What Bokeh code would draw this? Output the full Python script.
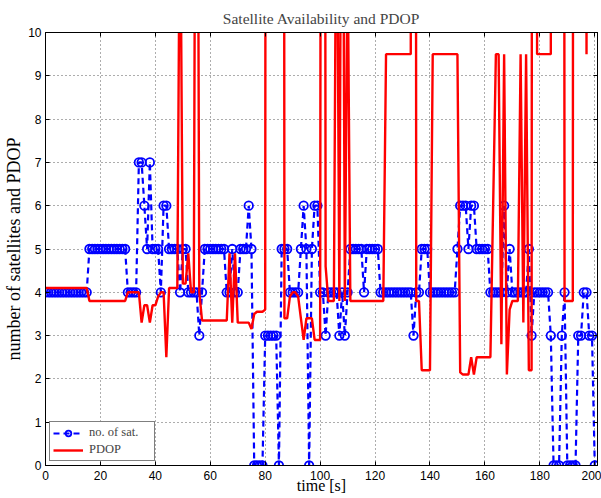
from bokeh.plotting import figure
from bokeh.models import (Range1d, FixedTicker, LinearAxis, Legend, LegendItem,
                          CustomLabelingPolicy)
from bokeh.embed import file_html
from bokeh.resources import INLINE

# time axis [s]
time_s = list(range(201))

# number of satellites
num_sat = [
    4, 4, 4, 4, 4, 4, 4, 4, 4, 4, 4, 4, 4, 4, 4, 4,
    5, 5, 5, 5, 5, 5, 5, 5, 5, 5, 5, 5, 5, 5,
    4, 4, 4, 4,
    7, 7, 6, 5, 7, 5, 5, 5, 4, 6, 6, 5, 5, 5, 5, 4,
    5, 5, 4, 4, 4, 4, 3, 4,
    5, 5, 5, 5, 5, 5, 5, 5,
    4, 4, 5, 4, 4, 5, 5, 5, 6, 5,
    0, 0, 0, 0, 3, 3, 3, 3, 3, 0,
    5, 5, 5, 4, 4, 4, 4, 5, 6, 5,
    0, 5, 6, 6, 4, 4, 3,
    4, 4, 4, 4, 3, 4, 3, 4,
    5, 5, 5, 5, 5, 4, 5, 5, 5, 5, 5,
    4, 4, 4, 4, 4, 4, 4, 4, 4, 4, 4, 4,
    3, 4, 4, 5, 5, 5, 4,
    4, 4, 4, 4, 4, 4, 4, 4, 4,
    5, 6, 6, 6, 5, 6, 6, 5, 5, 5, 5, 5,
    4, 4, 4, 4, 4,
    6, 4, 5, 4, 4, 4, 4, 4, 4,
    5, 3, 4, 4, 4, 4, 4, 4, 3,
    0, 0, 0, 3, 4, 0, 0, 0, 0, 3, 3, 4, 4, 3, 3, 0,
]

# PDOP (values far above 10 leave the plotted range)
pdop = [
    4.1, 4.1, 4.1, 4.1, 4.1, 4.1, 4.1, 4.1, 4.1, 4.1, 4.1, 4.1, 4.1, 4.1, 4.1, 4.1,
    3.8, 3.8, 3.8, 3.8, 3.8, 3.8, 3.8, 3.8, 3.8, 3.8, 3.8, 3.8, 3.8, 3.8,
    4.0, 4.0, 4.0, 4.0, 4.0,
    3.3, 3.7, 3.7, 3.3, 3.7, 3.7, 3.9, 4.0, 4.0, 2.5, 4.1, 4.1, 4.1, 4.1,
    14, 4.2, 4.2, 4.9, 4.0, 4.0, 24, 4.0,
    3.35, 3.35, 3.35, 3.35, 3.35, 3.35, 3.35, 3.35, 3.35, 3.35,
    4.9, 3.3, 4.9, 3.3, 3.3, 3.3, 3.3, 3.3, 3.15, 3.5, 3.55, 3.55, 3.55, 3.6,
    100, 100, 100, 100, 100, 100,
    3.4, 3.4, 3.9, 4.0, 4.0, 3.9, 3.4, 2.9, 3.4, 3.4, 3.4, 2.9, 2.9, 2.9,
    60, 4.6, 3.8, 3.8, 3.8, 15, 3.8, 20, 3.8, 12,
    3.8, 3.8, 3.8, 3.8, 3.8, 3.8, 3.8, 3.8, 3.8, 3.8, 3.8, 3.8, 3.8,
    9.5, 9.5, 9.5, 9.5, 9.5, 9.5, 9.5, 9.5, 9.5, 9.5,
    100, 3.8, 3.8, 2.2, 2.2, 2.2, 2.2,
    9.5, 9.5, 9.5, 9.5, 9.5, 9.5, 9.5, 9.5, 9.5, 9.5,
    2.15, 2.1, 2.1, 2.1, 2.5, 2.1, 2.5, 2.5, 2.5, 2.5, 2.5, 2.5,
    6.0, 9.5, 9.5, 2.8, 9.5, 2.1, 3.6, 3.8, 3.8, 3.8, 9.5, 3.3, 9.5, 2.2, 2.2,
    100, 9.5, 9.5, 9.5, 9.5, 9.5, 9.5,
    100, 100, 100, 100, 3.8, 3.8, 3.8, 3.8, 100, 100, 100, 100, 9.5, 100, 100, 100,
]

x_ticks = [0, 20, 40, 60, 80, 100, 120, 140, 160, 180, 200]
y_ticks = [0, 1, 2, 3, 4, 5, 6, 7, 8, 9, 10]

title_text = "Satellite Availability and PDOP"
x_label = "time [s]"
y_label = "number of satellites and PDOP"
legend_labels = ["no. of sat.", "PDOP"]

SERIF = "Liberation Serif"
SANS = "Liberation Sans"

p = figure(width=601, height=498, output_backend="svg", toolbar_location=None,
           x_range=Range1d(0, 201), y_range=Range1d(0, 10),
           min_border_left=45, min_border_right=3, min_border_top=32,
           min_border_bottom=33)

p.title.text = title_text
p.title.align = "center"
p.title.text_font = SERIF
p.title.text_font_size = "15.5px"
p.title.text_font_style = "normal"
p.title.standoff = 3

p.outline_line_color = "black"
p.outline_line_width = 1
p.background_fill_color = "white"
p.border_fill_color = "white"

for ax, ticks in ((p.xaxis[0], x_ticks), (p.yaxis[0], y_ticks)):
    ax.ticker = FixedTicker(ticks=ticks)
    ax.major_tick_in = 4
    ax.major_tick_out = 0
    ax.minor_tick_in = 0
    ax.minor_tick_out = 0
    ax.axis_line_color = "black"
    ax.major_tick_line_color = "black"
    ax.major_label_text_font = SANS
    ax.major_label_text_font_size = "12px"
    ax.major_label_text_color = "black"
    ax.axis_label_text_font = SERIF
    ax.axis_label_text_font_style = "normal"
    ax.axis_label_text_color = "black"

p.xaxis[0].axis_label = x_label
p.yaxis[0].axis_label = y_label
p.xaxis[0].axis_label_text_font_size = "16px"
p.yaxis[0].axis_label_text_font_size = "18px"
p.xaxis[0].major_label_standoff = 5
p.xaxis[0].axis_label_standoff = -6
p.yaxis[0].major_label_standoff = 4
p.yaxis[0].axis_label_standoff = 1

no_labels = CustomLabelingPolicy(code="""
for (const i of indices) { indices.unset(i) }
return indices
""")

for loc, ticks in (("above", x_ticks), ("right", y_ticks)):
    ax = LinearAxis(ticker=FixedTicker(ticks=ticks))
    ax.major_tick_in = 4
    ax.major_tick_out = 0
    ax.minor_tick_in = 0
    ax.minor_tick_out = 0
    ax.major_label_policy = no_labels
    ax.major_label_text_font_size = "1px"
    ax.major_label_standoff = 0
    ax.axis_line_color = "black"
    ax.major_tick_line_color = "black"
    p.add_layout(ax, loc)

p.xgrid[0].ticker = FixedTicker(ticks=x_ticks)
p.ygrid[0].ticker = FixedTicker(ticks=y_ticks)
for g in (p.xgrid[0], p.ygrid[0]):
    g.grid_line_color = "#333333"
    g.grid_line_alpha = 0.8
    g.grid_line_dash = "1 3"
    g.grid_line_width = 1

sat_line = p.line(time_s, num_sat, line_color="#0000ff", line_width=2.2,
                  line_dash="6 4")
sat_pts = p.scatter(time_s, num_sat, marker="circle", size=8.5,
                    line_color="#0000ff", fill_color=None, line_width=1.8)
pdop_line = p.line(time_s, pdop, line_color="#ff0000", line_width=2.4)

legend = Legend(items=[
    LegendItem(label=legend_labels[0], renderers=[sat_line, sat_pts]),
    LegendItem(label=legend_labels[1], renderers=[pdop_line]),
])
legend.location = (4, 4)
legend.label_text_font = SERIF
legend.label_text_font_size = "12.5px"
legend.label_height = 14
legend.label_width = 62
legend.glyph_height = 14
legend.glyph_width = 30
legend.spacing = 2
legend.padding = 3
legend.margin = 0
legend.label_standoff = 6
legend.border_line_color = "black"
legend.border_line_width = 1
legend.background_fill_color = "white"
legend.background_fill_alpha = 1
p.add_layout(legend)

open("out.html", "w").write(file_html(p, INLINE))
